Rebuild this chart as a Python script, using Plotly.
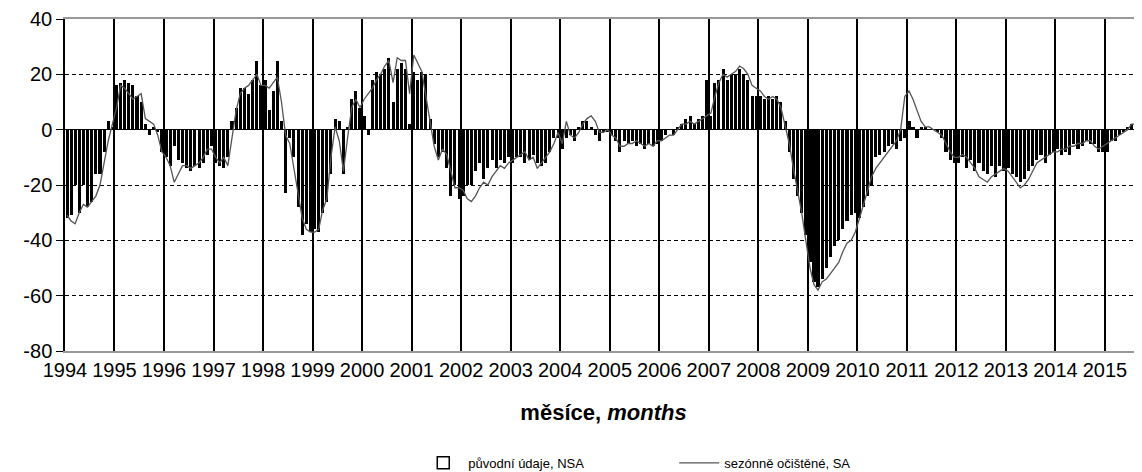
import pandas as pd
import plotly.graph_objects as go

years = [str(y) for y in range(1994, 2016)]
y_ticks = [-80, -60, -40, -20, 0, 20, 40]
y_tick_labels = [str(v) for v in y_ticks]

# NSA (original data), one row per year (2015 ends in September)
nsa = [
    -32, -31, -20, -30, -20, -28, -26, -16, -16, -8, 3, 1,          # 1994
    16, 17, 18, 17, 16, 12, 10, 2, -2, 1, -1, -8,                   # 1995
    -10, -13, -6, -11, -12, -14, -15, -13, -14, -12, -9, -6,        # 1996
    -12, -13, -14, -10, 3, 8, 15, 15, 13, 18, 25, 16,               # 1997
    18, 7, 14, 25, 3, -23, -3, -10, -28, -38, -34, -37,             # 1998
    -36, -37, -30, -26, -16, 4, 3, -16, 1, 11, 14, 8,               # 1999
    5, -2, 18, 21, 20, 22, 26, 10, 22, 24, 22, 2,                   # 2000
    21, 18, 21, 20, 4, -5, -10, -8, -14, -24, -20, -25,             # 2001
    -24, -20, -20, -15, -12, -18, -14, -11, -14, -11, -12, -10,     # 2002
    -12, -10, -10, -12, -11, -9, -12, -13, -12, -8, -3, -3,         # 2003
    -7, -3, -2, -4, 1, 3, 3, 1, -2, -4, -1, -1,                     # 2004
    -2, -4, -8, -4, -5, -4, -6, -5, -7, -5, -6, -5,                 # 2005
    -4, -2, 0, -2, 1, 2, 4, 5, 2, 4, 5, 18,                         # 2006
    5, 17, 18, 22, 18, 20, 20, 22, 20, 18, 12, 12,                  # 2007
    12, 11, 12, 11, 12, 10, 3, -8, -18, -24, -30, -38,              # 2008
    -48, -55, -57, -54, -50, -46, -42, -40, -36, -33, -31, -30,     # 2009
    -32, -28, -24, -20, -10, -9, -8, -6, -5, -7, -4, -3,            # 2010
    3, 1, -3, 1, 1, 0, 0, -1, -3, -8, -11, -12,                     # 2011
    -12, -10, -14, -11, -15, -12, -15, -16, -13, -17, -13, -15,     # 2012
    -14, -16, -17, -19, -18, -15, -13, -11, -9, -12, -9, -8,        # 2013
    -7, -9, -8, -9, -5, -7, -6, -4, -5, -5, -8, -8,                 # 2014
    -8, -4, -4, -2, -1, 1, 2, 2, -7,                                # 2015
]

# SA (seasonally adjusted)
sa = [
    -31, -33, -34, -30, -27, -28, -26, -24, -20, -12, -4, 2,        # 1994
    8, 16, 15, 13, 11, 12, 13, 4, 3, 2, -2, -8,                     # 1995
    -10, -13, -19, -16, -13, -13, -14, -13, -12, -10, -7, -7,       # 1996
    -10, -12, -10, -13, -3, 7, 13, 15, 16, 18, 20, 16,              # 1997
    16, 15, 17, 19, 10, -2, -5, -14, -24, -32, -36, -37,            # 1998
    -37, -36, -29, -25, -10, 1, -4, -15, -3, 8, 11, 8,              # 1999
    11, 13, 15, 18, 20, 23, 25, 17, 26, 25, 25, 13,                 # 2000
    27, 24, 21, 12, 3, -6, -11, -7, -9, -15, -21, -21,              # 2001
    -22, -25, -26, -24, -21, -19, -20, -17, -15, -13, -14, -12,     # 2002
    -11, -10, -9, -8, -11, -10, -14, -12, -10, -8, -5, -1,          # 2003
    -5, 3, -2, -3, -1, 2, 4, 5, 3, -1, -1, 0,                       # 2004
    -2, -3, -6, -6, -5, -5, -4, -5, -6, -5, -6, -4,                 # 2005
    -4, -3, -2, -2, 0, 2, 2, 3, 2, 3, 4, 5,                         # 2006
    6, 12, 17, 20, 19, 20, 21, 23, 22, 20, 16, 15,                  # 2007
    14, 12, 11, 12, 11, 8, 2, -5, -14, -22, -30, -40,               # 2008
    -50, -56, -58, -55, -54, -52, -50, -48, -44, -41, -40, -37,     # 2009
    -32, -27, -22, -17, -14, -12, -10, -8, -6, -4, 0, 12,           # 2010
    14, 11, 7, 3, 1, 1, 0, -1, -2, -5, -8, -10,                     # 2011
    -10, -9, -10, -12, -14, -17, -18, -19, -17, -16, -15, -14,      # 2012
    -15, -17, -19, -21, -20, -18, -15, -12, -11, -10, -9, -8,       # 2013
    -8, -7, -7, -6, -6, -5, -5, -4, -4, -6, -7, -6,                 # 2014
    -5, -4, -3, -2, -1, 0, 2, 2, -5,                                # 2015
]

months = pd.date_range("1994-01-01", periods=len(nsa), freq="MS")
label_nsa = "původní údaje, NSA"
label_sa = "sezónně očištěné, SA"

FONT = "Liberation Sans, Arial, sans-serif"
bar_w = 0.74 * 30.44 * 86400000

fig = go.Figure()
fig.add_trace(go.Bar(
    x=months, y=nsa, xperiod="M1", xperiodalignment="middle",
    width=bar_w, marker=dict(color="black", line=dict(width=0)),
    showlegend=False, name=label_nsa,
))
# legend entry for the NSA bars (outlined box, as in the original)
fig.add_trace(go.Bar(
    x=[None], y=[None], name=label_nsa,
    marker=dict(color="white", line=dict(color="black", width=1.5)),
))
fig.add_trace(go.Scatter(
    x=months, y=sa, xperiod="M1", xperiodalignment="middle",
    mode="lines", line=dict(color="#555555", width=1.3),
    name=label_sa,
))

# page body has an 8px margin: the figure is sized so it ends at the window edge
fig.update_layout(
    width=1134, height=464,
    margin=dict(l=57, r=0, t=11, b=121, autoexpand=False),
    plot_bgcolor="white", paper_bgcolor="white",
    bargap=0,
    font=dict(family=FONT, color="black"),
    showlegend=True,
    legend=dict(
        orientation="h", x=0.328, xanchor="left", y=-0.337, yanchor="middle",
        entrywidth=201, entrywidthmode="pixels", itemwidth=40,
        font=dict(size=13, family=FONT), bgcolor="rgba(0,0,0,0)",
        traceorder="normal",
    ),
)
fig.update_xaxes(
    type="date", range=["1994-01-01", "2015-10-01"], automargin=False,
    tickvals=pd.to_datetime([y + "-01-01" for y in years]), ticktext=years,
    tickfont=dict(size=20, family=FONT), ticks="",
    showgrid=True, gridcolor="black", gridwidth=1.5,
    showline=True, linecolor="#999999", linewidth=1.5, mirror=True,
    title=dict(text="<b>měsíce, <i>months</i></b>", font=dict(size=22, family=FONT), standoff=25),
)
fig.update_yaxes(
    range=[-80, 40], tickvals=y_ticks, ticktext=y_tick_labels, automargin=False,
    tickfont=dict(size=20, family=FONT), ticks="outside", ticklen=7, tickcolor="black",
    showgrid=True, gridcolor="black", gridwidth=1, griddash="4px,3px",
    zeroline=True, zerolinecolor="black", zerolinewidth=1,
    showline=True, linecolor="black", linewidth=1.5,
)

fig.write_html("out.html")
